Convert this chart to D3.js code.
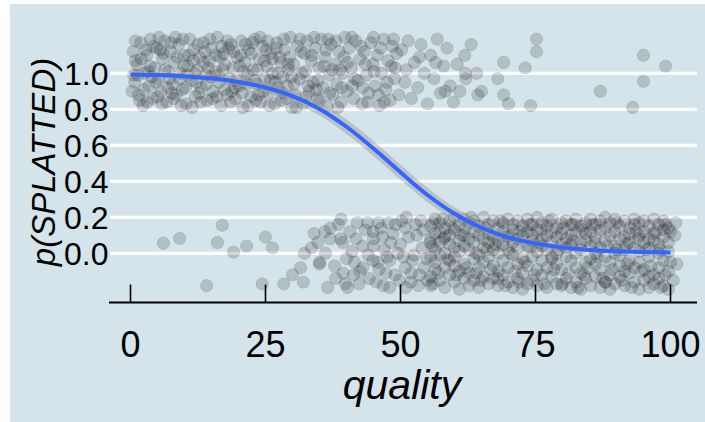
<!DOCTYPE html>
<html>
<head>
<meta charset="utf-8">
<script src="https://cdn.jsdelivr.net/npm/d3@7"></script>
<style>
  html, body { margin: 0; padding: 0; background: #ffffff; }
  svg { display: block; }
  text { font-family: "Liberation Sans", Arial, Helvetica, sans-serif; fill: #000; }
</style>
</head>
<body>
<svg id="chart" width="705" height="422"></svg>
<script>
// ---------------- data ----------------
const xTicks = [0, 25, 50, 75, 100];
const yTicks = [0.0, 0.2, 0.4, 0.6, 0.8, 1.0];
const yTickLabels = ["0.0", "0.2", "0.4", "0.6", "0.8", "1.0"];
const xTitle = "quality";
const yTitle = "p(SPLATTED)";

// jittered observations with outcome = 1 (splatted): [quality, jittered p]
const splattedPoints = [
  [0.5,1.12],[0.8,0.95],[1.2,1.05],[1.5,0.88],[1.9,1.17],[2.3,0.82],[2.6,1.0],[3.0,1.1],[3.4,0.93],[3.7,1.19],[4.1,0.86],[4.5,1.03],[4.8,1.14],[5.2,0.97],[5.6,0.9],[5.9,1.08],[6.3,1.18],[6.7,0.84],[7.0,1.01],[7.4,1.12],[7.8,0.94],[8.1,1.06],[8.5,0.88],[8.9,1.16],[9.2,1.0],[9.6,0.91],[9.9,1.1],
  [10.3,0.83],[10.6,1.04],[11.0,1.19],[11.3,0.96],[11.7,1.13],[12.0,0.87],[12.4,1.02],[12.8,1.09],[13.1,0.92],[13.5,1.17],[13.9,0.99],[14.2,0.85],[14.6,1.07],[15.0,1.14],[15.3,0.9],[15.7,1.01],[16.1,1.2],[16.4,0.95],[16.8,0.82],[17.2,1.11],[17.5,1.05],[17.9,0.88],[18.3,0.97],[18.6,1.16],[19.0,1.03],[19.4,0.86],[19.7,1.09],
  [20.1,0.93],[20.5,1.18],[20.8,0.81],[21.2,1.06],[21.6,0.99],[21.9,1.13],[22.3,0.87],[22.7,1.02],[23.0,1.19],[23.4,0.94],[23.8,1.08],[24.1,0.84],[24.5,1.15],[24.9,0.97],[25.2,1.04],[25.6,0.89],[26.0,1.11],[26.3,1.0],[26.7,0.83],[27.1,1.17],[27.4,0.92],[27.8,1.06],[28.2,0.98],[28.5,1.13],[28.9,0.86],[29.3,1.02],[29.6,1.2],
  [0.3,0.9],[0.9,1.18],[1.4,0.99],[2.0,1.08],[2.5,0.91],[3.1,0.84],[3.6,1.04],[4.2,1.15],[4.7,0.95],[5.3,1.2],[5.8,0.83],[6.4,1.02],[6.9,0.92],[7.5,1.17],[8.0,0.86],[8.6,1.09],[9.1,0.97],[9.7,1.19],[10.2,0.92],[10.8,1.1],[11.4,0.81],[11.9,1.0],[12.5,1.16],[13.0,0.84],[13.6,1.06],[14.1,0.94],[14.7,1.19],[15.2,0.86],[15.8,1.1],[16.3,0.99],[16.9,1.15],[17.4,0.91],[18.0,1.18],[18.5,0.84],[19.1,1.12],[19.6,0.96],[20.2,1.04],[20.7,0.89],[21.3,1.16],[21.8,0.82],[22.4,1.11],[22.9,0.96],[23.5,1.02],[24.0,1.2],[24.6,0.9],[25.1,1.13],[25.7,0.82],[26.2,1.08],[26.8,0.95],[27.3,1.0],[27.9,0.85],[28.4,1.19],[29.0,0.93],[29.5,1.09],[29.9,0.81],
  [30.2,1.05],[30.5,0.88],[30.9,1.15],[31.3,0.97],[31.6,1.12],[32.0,0.83],[32.4,1.01],[32.7,1.18],[33.1,0.9],[33.5,1.07],[33.8,0.95],[34.2,1.14],[34.6,0.86],[34.9,1.03],[35.3,1.19],[35.7,0.92],[36.0,1.09],[36.4,0.82],[36.8,0.99],[37.1,1.16],[37.5,0.88],[37.9,1.05],[38.2,0.94],[38.6,1.12],[39.0,0.84],[39.3,1.0],[39.7,1.2],[30.7,0.81],[31.8,1.0],[32.9,0.93],[34.0,1.2],[35.0,0.85],[36.2,1.13],[37.3,1.02],[38.4,0.81],[39.5,1.09],
  [40.1,0.9],[40.5,1.14],[40.9,1.03],[41.3,0.86],[41.7,1.18],[42.1,0.96],[42.5,1.08],[42.9,0.83],[43.3,1.12],[43.7,0.99],[44.1,0.89],[44.5,1.17],[44.9,1.05],[45.3,0.93],[45.7,1.1],[46.1,0.82],[46.5,1.0],[46.9,1.19],[47.3,0.91],[47.7,1.07],[48.1,0.85],[48.5,1.15],[48.9,0.97],[49.3,1.11],[49.7,0.88],[41.0,1.2],[43.0,0.92],[45.0,1.2],[47.0,0.84],[49.0,1.03],
  [50.2,1.13],[50.8,0.95],[51.4,1.18],[52.0,0.86],[52.6,1.06],[53.2,0.92],[53.8,1.16],[54.4,1.0],[55.0,0.83],[55.6,1.1],[56.2,0.97],[56.8,1.19],[57.4,0.89],[58.0,1.04],[58.6,1.14],[59.2,0.93],[59.8,0.84],
  [61.9,1.1],[62.0,1.0],[62.1,0.97],[63.1,1.16],[64.1,1.0],[64.3,0.88],[65.0,0.9],[68.0,0.97],[69.1,1.06],[69.1,0.88],[70.0,0.83],[60.5,1.05],[61.0,0.9],
  [73.1,1.03],[75.2,1.19],[75.2,1.12],[74.1,0.82],[87.0,0.9],[93.0,0.81],[95.0,1.1],[95.0,0.955],[99.1,1.04],
  [0.6,0.99],[1.7,0.85],[2.8,1.13],[3.9,0.98],[5.0,0.87],[6.1,1.11],[7.2,0.97],[8.3,1.2],[9.4,0.82],[10.5,0.99],[11.6,1.07],[12.7,0.89],[13.8,1.12],[14.9,0.98],[16.0,0.87],[17.1,1.02],[18.2,1.14],[19.3,0.92],[20.4,1.1],[21.5,0.94],[22.6,1.17],[23.7,0.88],[24.8,1.07],[25.9,0.96],[27.0,1.14],[28.1,0.89],[29.2,1.05],[30.3,0.94],[31.4,1.19],[32.5,0.87],[33.6,1.1],[34.7,0.96],[35.8,1.04],[36.9,0.89],[38.0,1.18],[39.1,0.92],[40.2,1.06],[41.5,0.97],[42.7,1.15],[43.9,0.84],[45.1,1.01],[46.3,1.14],[47.5,0.95],[48.7,1.19],
  [0.9,1.07],[3.3,1.01],[5.5,1.13],[7.7,0.89],[9.9,1.04],[12.2,0.95],[14.4,1.03],[16.6,1.09],[18.8,0.9],[21.0,1.01],[23.2,0.85],[25.4,1.18],[27.6,1.09],[29.8,0.98],[32.2,1.11],[34.4,0.91],[36.6,1.19],[38.8,1.02],[41.1,0.93],[43.5,1.05],[45.9,0.88],[48.3,1.04],[51.1,1.02],[53.5,1.09],[56.5,1.06],[58.3,0.9]
];

// jittered observations with outcome = 0 (not splatted): [quality, jittered p]
const notSplattedPoints = [
  [6.1,0.056],[9.1,0.083],[16.1,0.06],[17.0,0.156],[19.1,0.006],[14.1,-0.18],
  [21.5,0.04],[25.0,0.09],[26.3,0.03],[24.4,-0.17],[28.4,-0.17],[31.5,-0.08],[32.0,-0.16],[33.5,0.03],[35.0,-0.05],[34.7,0.06],[30.0,-0.12],
  [32.2,0.0],[36.1,0.0],[35.0,-0.06],[38.0,-0.14],[39.4,-0.11],[40.2,-0.19],[41.3,-0.12],[43.0,-0.08],[44.9,-0.04],[45.5,-0.16],[46.8,-0.18],[48.0,-0.04],[49.0,-0.12],[50.9,-0.08],[52.2,-0.04],[51.9,-0.16],[54.3,-0.08],[55.0,-0.15],
  [37.0,0.14],[37.0,0.08],[38.9,0.08],[39.3,0.06],[42.0,0.17],[43.9,0.17],[45.9,0.17],[47.8,0.17],[51.1,0.2],[50.9,0.14],[43.0,0.04],[44.9,0.12],[46.7,0.09],[48.6,0.11],[53.0,0.1],[54.0,0.03],[41.0,0.01],[44.0,-0.01],[47.0,0.02],[50.0,0.05],[52.5,-0.01],[40.0,-0.03],[42.5,-0.1],[46.0,-0.09],[49.5,0.0],[53.5,-0.12],[55.5,0.06],[56.0,0.17],[36.5,-0.19],[39.0,0.19],[48.0,-0.19],[51.0,-0.19],[34.0,0.11],[45.0,0.04],[41.8,0.08],[53.8,0.18],
  [36.0,0.12],[37.8,-0.07],[38.5,0.16],[39.8,-0.17],[40.6,0.12],[41.5,-0.05],[42.3,-0.17],[43.5,0.13],[44.2,-0.14],[45.0,0.08],[45.8,-0.05],[46.4,0.14],[47.3,-0.11],[48.2,0.06],[49.1,0.16],[49.8,-0.15],[50.5,-0.02],[51.5,0.09],[52.0,-0.11],[52.8,0.16],[53.3,-0.18],[54.2,0.13],[54.8,-0.03],[50.2,0.18],[47.5,-0.02],
  [55.6,0.15],[55.6,-0.02],[55.6,0.08],[55.6,-0.13],[55.6,-0.18],
  [56.4,0.02],[56.4,0.19],[56.4,-0.09],[56.4,0.11],[56.4,-0.05],
  [57.3,-0.15],[57.3,0.06],[57.3,0.17],[57.3,-0.01],[57.3,0.12],
  [58.2,0.09],[58.2,-0.19],[58.2,0.0],[58.2,0.14],[58.2,-0.08],
  [59.1,-0.04],[59.1,0.18],[59.1,0.05],[59.1,-0.12],[59.1,0.1],
  [60.0,0.13],[60.0,-0.16],[60.0,-0.07],[60.0,0.03],[60.0,0.2],
  [60.9,-0.1],[60.9,0.07],[60.9,0.16],[60.9,-0.2],[60.9,0.01],
  [61.8,0.04],[61.8,-0.06],[61.8,0.19],[61.8,0.1],[61.8,-0.14],
  [62.7,0.17],[62.7,-0.11],[62.7,0.02],[62.7,-0.18],[62.7,0.08],
  [63.6,-0.03],[63.6,0.12],[63.6,-0.15],[63.6,0.06],[63.6,0.18],
  [64.5,0.1],[64.5,-0.08],[64.5,0.15],[64.5,-0.19],[64.5,-0.01],
  [65.4,-0.13],[65.4,0.03],[65.4,0.2],[65.4,0.08],[65.4,-0.05],
  [66.3,0.06],[66.3,-0.17],[66.3,0.11],[66.3,-0.02],[66.3,0.16],
  [67.2,0.18],[67.2,-0.07],[67.2,-0.14],[67.2,0.02],[67.2,0.09],
  [68.1,-0.1],[68.1,0.14],[68.1,0.0],[68.1,-0.18],[68.1,0.07],
  [69.0,0.05],[69.0,-0.04],[69.0,0.17],[69.0,-0.12],[69.0,0.12],
  [69.9,-0.16],[69.9,0.09],[69.9,0.02],[69.9,0.19],[69.9,-0.08],
  [70.8,0.13],[70.8,-0.01],[70.8,-0.19],[70.8,0.06],[70.8,0.16],
  [71.7,-0.06],[71.7,0.18],[71.7,0.08],[71.7,-0.14],[71.7,0.03],
  [72.6,0.1],[72.6,-0.11],[72.6,0.15],[72.6,-0.03],[72.6,-0.2],
  [73.5,-0.17],[73.5,0.04],[73.5,0.12],[73.5,0.19],[73.5,-0.07],
  [74.4,0.07],[74.4,-0.15],[74.4,-0.02],[74.4,0.16],[74.4,0.1],
  [75.3,0.01],[75.3,0.13],[75.3,-0.09],[75.3,-0.18],[75.3,0.2],
  [76.2,-0.12],[76.2,0.08],[76.2,0.17],[76.2,-0.04],[76.2,0.04],
  [77.1,0.15],[77.1,-0.19],[77.1,0.02],[77.1,0.1],[77.1,-0.08],
  [78.0,-0.03],[78.0,0.19],[78.0,-0.13],[78.0,0.06],[78.0,0.12],
  [78.9,0.09],[78.9,-0.06],[78.9,0.14],[78.9,-0.17],[78.9,0.0],
  [79.8,-0.18],[79.8,0.11],[79.8,0.05],[79.8,-0.09],[79.8,0.17],
  [80.7,0.03],[80.7,-0.14],[80.7,0.18],[80.7,0.08],[80.7,-0.02],
  [81.6,0.16],[81.6,-0.04],[81.6,-0.19],[81.6,0.1],[81.6,0.05],
  [82.5,-0.08],[82.5,0.12],[82.5,0.0],[82.5,-0.16],[82.5,0.19],
  [83.4,0.06],[83.4,-0.11],[83.4,0.15],[83.4,-0.2],[83.4,0.02],
  [84.3,-0.14],[84.3,0.17],[84.3,0.07],[84.3,-0.05],[84.3,0.11],
  [85.2,0.12],[85.2,-0.18],[85.2,-0.03],[85.2,0.19],[85.2,0.04],
  [86.1,-0.06],[86.1,0.09],[86.1,0.16],[86.1,-0.13],[86.1,0.0],
  [87.0,0.18],[87.0,-0.09],[87.0,0.03],[87.0,-0.19],[87.0,0.13],
  [87.9,-0.02],[87.9,0.14],[87.9,-0.16],[87.9,0.07],[87.9,0.2],
  [88.8,0.1],[88.8,-0.05],[88.8,0.17],[88.8,-0.12],[88.8,-0.2],
  [89.7,-0.17],[89.7,0.04],[89.7,0.12],[89.7,0.0],[89.7,0.19],
  [90.6,0.08],[90.6,-0.13],[90.6,-0.01],[90.6,0.15],[90.6,-0.07],
  [91.5,0.02],[91.5,0.18],[91.5,-0.18],[91.5,0.09],[91.5,-0.1],
  [92.4,-0.11],[92.4,0.06],[92.4,0.14],[92.4,-0.04],[92.4,0.11],
  [93.3,0.16],[93.3,-0.16],[93.3,0.03],[93.3,-0.08],[93.3,0.19],
  [94.2,-0.05],[94.2,0.1],[94.2,-0.2],[94.2,0.17],[94.2,0.01],
  [95.1,0.12],[95.1,-0.09],[95.1,0.06],[95.1,-0.15],[95.1,0.18],
  [96.0,-0.19],[96.0,0.03],[96.0,0.15],[96.0,-0.02],[96.0,0.08],
  [96.9,0.07],[96.9,-0.12],[96.9,0.19],[96.9,0.11],[96.9,-0.17],
  [97.8,-0.08],[97.8,0.16],[97.8,0.0],[97.8,-0.14],[97.8,0.05],
  [98.7,0.13],[98.7,-0.04],[98.7,-0.18],[98.7,0.09],[98.7,0.18],
  [99.6,-0.1],[99.6,0.06],[99.6,0.14],[99.6,-0.2],[99.6,0.01],
  [100.8,0.1],[101.2,-0.06],[100.5,-0.15],[101.0,0.17],
  [55.9,0.04],[57.0,-0.11],[57.8,0.19],[58.7,-0.03],[59.6,0.14],[60.4,-0.12],[61.3,0.1],[62.2,-0.08],[63.1,0.2],[64.0,0.0],[64.9,-0.15],[65.8,0.14],[66.7,-0.09],[67.6,0.05],[68.5,0.18],[69.4,-0.18],[70.3,0.0],[71.2,-0.1],[72.1,0.12],[73.0,-0.05],[73.9,0.16],[74.8,-0.12],[75.7,0.06],[76.6,-0.17],[77.5,0.18],[78.4,-0.09],[79.3,0.02],[80.2,0.14],[81.1,-0.11],[82.0,0.07],[82.9,-0.19],[83.8,0.13],[84.7,-0.08],[85.6,0.16],[86.5,-0.02],[87.4,-0.14],[88.3,0.04],[89.2,-0.09],[90.1,0.17],[91.0,-0.15],[91.9,0.05],[92.8,-0.19],[93.7,0.12],[94.6,-0.1],[95.5,0.02],[96.4,-0.07],[97.3,0.12],[98.2,-0.19],[99.1,0.16],[100.0,-0.05],
  [56.0,-0.17],[58.0,0.08],[60.0,-0.02],[62.0,0.14],[64.0,-0.11],[66.0,0.02],[68.0,-0.14],[70.0,0.1],[72.0,-0.16],[74.0,0.03],[76.0,0.13],[78.0,-0.02],[80.0,-0.17],[82.0,0.16],[84.0,-0.12],[86.0,0.06],[88.0,-0.16],[90.0,0.02],[92.0,-0.06],[94.0,0.08],[96.0,-0.13],[98.0,0.02],[100.0,0.12],[99.0,-0.12]
];

// fitted logistic curve and its confidence band
const fitQuality = [0,5,10,15,20,25,30,35,40,45,50,55,60,65,70,75,80,85,90,95,100];
const fitP =       [0.994,0.990,0.983,0.972,0.952,0.921,0.873,0.802,0.703,0.582,0.450,0.324,0.220,0.142,0.088,0.054,0.032,0.019,0.011,0.007,0.004];
const fitLower =   [0.983,0.977,0.968,0.954,0.930,0.894,0.841,0.765,0.663,0.540,0.408,0.284,0.184,0.112,0.064,0.035,0.017,0.007,0.001,-0.001,-0.003];
const fitUpper =   [1.005,1.003,0.998,0.990,0.974,0.948,0.905,0.839,0.743,0.624,0.492,0.364,0.256,0.172,0.112,0.073,0.047,0.031,0.021,0.015,0.011];

// ---------------- drawing ----------------
const svg = d3.select("#chart");
const W = 705, H = 422;

const x = d3.scaleLinear().domain([0, 100]).range([130.5, 670.5]);
const y = d3.scaleLinear().domain([0, 1]).range([253.3, 73.3]);

// panel background
svg.append("rect")
  .attr("x", 10).attr("y", 4)
  .attr("width", W - 10).attr("height", H - 4)
  .attr("fill", "#d5e4eb");

// horizontal grid lines
svg.append("g").selectAll("line").data(yTicks).join("line")
  .attr("x1", 110).attr("x2", 697)
  .attr("y1", d => y(d)).attr("y2", d => y(d))
  .attr("stroke", "#ffffff").attr("stroke-width", 3.2);

// points
const pts = svg.append("g");
pts.selectAll("circle.s").data(splattedPoints).join("circle")
  .attr("class", "s")
  .attr("cx", d => x(d[0])).attr("cy", d => y(d[1])).attr("r", 6.2)
  .attr("fill", "#000").attr("fill-opacity", 0.16)
  .attr("stroke", "#000").attr("stroke-opacity", 0.1).attr("stroke-width", 1);
pts.selectAll("circle.n").data(notSplattedPoints).join("circle")
  .attr("class", "n")
  .attr("cx", d => x(d[0])).attr("cy", d => y(d[1])).attr("r", 6.2)
  .attr("fill", "#000").attr("fill-opacity", 0.16)
  .attr("stroke", "#000").attr("stroke-opacity", 0.1).attr("stroke-width", 1);

// confidence band
const fitRows = fitQuality.map((q, i) => ({ q, p: fitP[i], lo: fitLower[i], hi: fitUpper[i] }));
svg.append("path").datum(fitRows)
  .attr("d", d3.area().x(d => x(d.q)).y0(d => y(d.lo)).y1(d => y(d.hi)).curve(d3.curveCatmullRom))
  .attr("fill", "#999999").attr("fill-opacity", 0.45);

// fitted line
svg.append("path").datum(fitRows)
  .attr("d", d3.line().x(d => x(d.q)).y(d => y(d.p)).curve(d3.curveCatmullRom))
  .attr("fill", "none").attr("stroke", "#3366ff").attr("stroke-width", 4);

// x axis
const xAxisY = 302.5;
svg.append("line")
  .attr("x1", 109).attr("x2", 697).attr("y1", xAxisY).attr("y2", xAxisY)
  .attr("stroke", "#000").attr("stroke-width", 1.8);
svg.append("g").selectAll("line").data(xTicks).join("line")
  .attr("x1", d => x(d)).attr("x2", d => x(d))
  .attr("y1", xAxisY).attr("y2", xAxisY - 18)
  .attr("stroke", "#000").attr("stroke-width", 1.6);
svg.append("g").selectAll("text").data(xTicks).join("text")
  .attr("x", d => x(d)).attr("y", 357)
  .attr("text-anchor", "middle")
  .style("font-size", "36px")
  .text(d => d3.format("d")(d));

// y tick labels
svg.append("g").selectAll("text").data(yTicks).join("text")
  .attr("x", 108.5).attr("y", d => y(d) + 11.5)
  .attr("text-anchor", "end")
  .style("font-size", "32px")
  .text((d, i) => yTickLabels[i]);

// axis titles
svg.append("text")
  .attr("x", 402).attr("y", 399)
  .attr("text-anchor", "middle")
  .style("font-size", "41px").style("font-style", "italic")
  .text(xTitle);

svg.append("text")
  .attr("transform", "translate(55,162) rotate(-90)")
  .attr("text-anchor", "middle")
  .style("font-size", "33px").style("font-style", "italic")
  .text(yTitle);
</script>
</body>
</html>
